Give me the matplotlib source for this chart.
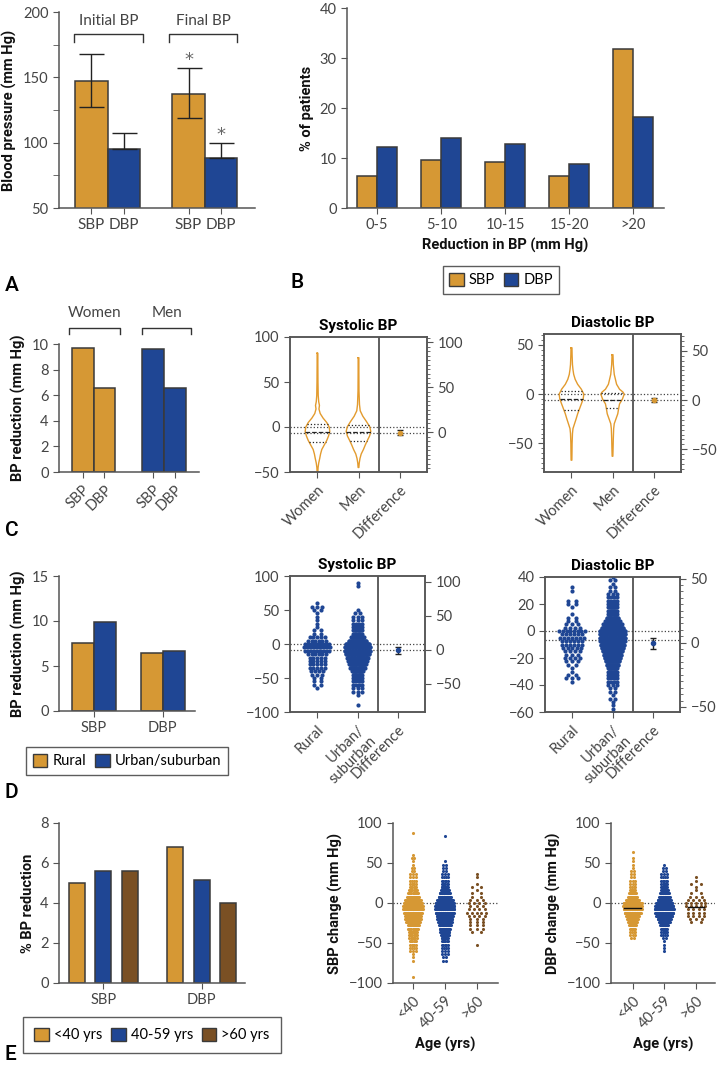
import numpy as np
import matplotlib.pyplot as plt
from matplotlib.patches import Patch
from matplotlib.ticker import MultipleLocator

plt.rcParams['font.family'] = ['Lato', 'DejaVu Sans']
plt.rcParams['font.weight'] = 'normal'
plt.rcParams['axes.edgecolor'] = '#555555'
plt.rcParams['axes.linewidth'] = 1.1
plt.rcParams['xtick.color'] = '#555555'
plt.rcParams['ytick.color'] = '#555555'
plt.rcParams['xtick.labelcolor'] = '#444444'
plt.rcParams['ytick.labelcolor'] = '#444444'
plt.rcParams['xtick.labelsize'] = 10.5
plt.rcParams['ytick.labelsize'] = 10.5
plt.rcParams['xtick.major.size'] = 4
plt.rcParams['ytick.major.size'] = 4
plt.rcParams['ytick.minor.size'] = 2.5

ORANGE = '#D69834'
BLUE = '#1F4694'
BROWN = '#7A5024'
EDGE = '#3a3a3a'
LABEL = dict(fontsize=10.5, fontweight='bold', family=['Roboto', 'DejaVu Sans'], color='#111111')

# ---- A: initial / final BP
a_groups = ['Initial BP', 'Final BP']
a_labels = ['SBP', 'DBP', 'SBP', 'DBP']
a_values = [147, 95, 137, 88]
a_err_low = [19.5, 0, 18.5, 0]
a_err_high = [20.5, 12.5, 20.5, 12]
a_stars = [None, None, 163, 106]

# ---- B: distribution of reduction
b_bins = ['0-5', '5-10', '10-15', '15-20', '>20']
b_sbp = [6.5, 9.7, 9.3, 6.5, 31.8]
b_dbp = [12.2, 14.1, 12.8, 8.8, 18.3]

# ---- C: sex
c_groups = ['Women', 'Men']
c_labels = ['SBP', 'DBP', 'SBP', 'DBP']
c_values = [9.7, 6.6, 9.6, 6.6]

c_sys_w_y = [82, 70, 50, 35, 28, 24, 20, 15, 10, 5, 0, -5, -10, -15, -20, -25, -30, -35, -40, -45, -50]
c_sys_w_d = [.03, .03, .04, .06, .10, .16, .12, .22, .45, .75, .95, 1.0, .9, .75, .55, .35, .25, .18, .10, .05, .03]
c_sys_m_y = [77, 60, 40, 25, 18, 12, 6, 0, -5, -10, -15, -20, -25, -30, -35, -40, -45]
c_sys_m_d = [.03, .03, .04, .08, .14, .35, .65, .92, 1.0, .9, .72, .55, .40, .22, .12, .06, .03]
c_sys_quart = [[3, -6, -17], [2, -6, -15]]
c_sys_means = [0, -6.2]
c_sys_diff = [-0.5, -2.5, 2.5]

c_dia_w_y = [47, 40, 30, 25, 20, 15, 10, 5, 0, -5, -10, -15, -20, -25, -30, -35, -40, -50, -60, -67]
c_dia_w_d = [.04, .05, .08, .12, .18, .30, .50, .80, 1.0, .95, .80, .65, .50, .38, .25, .12, .08, .05, .04, .03]
c_dia_m_y = [40, 30, 20, 15, 10, 5, 2, 0, -5, -10, -15, -20, -25, -30, -35, -45, -55, -63]
c_dia_m_d = [.04, .07, .15, .25, .35, .60, .90, 1.0, .85, .60, .52, .45, .30, .15, .10, .07, .05, .03]
c_dia_quart = [[3, -5, -16], [1, -6, -14]]
c_dia_means = [0, -6]
c_dia_diff = [0.2, -1.7, 2.3]

# ---- D: rural vs urban
d_series = ['Rural', 'Urban/suburban']
d_groups = ['SBP', 'DBP']
d_rural = [7.6, 6.5]
d_urban = [9.9, 6.7]
d_cats = ['Rural', 'Urban/\nsuburban', 'Difference']

d_sys_levels = list(range(90, -95, -5))
d_sys_rural = [0, 0, 0, 0, 0, 0, 1, 3, 2, 1, 1, 1, 1, 1, 2, 2, 5, 6, 9, 10, 9, 6, 5, 5, 5, 5, 4, 3, 2, 2, 2, 1,
               0, 0, 0, 0, 0]
d_sys_urban = [1, 1, 0, 0, 0, 0, 0, 0, 1, 2, 3, 3, 4, 5, 7, 10, 18, 28, 40, 45, 45, 40, 35, 30, 26, 22, 16, 12,
               8, 5, 4, 3, 3, 1, 0, 0, 1]
d_sys_means = [0, -8.2]
d_sys_diff = [-1, -7, 3.4]

d_dia_levels = [40 - 2.5 * i for i in range(41)]
d_dia_rural = [0, 0, 0, 1, 1, 0, 0, 2, 2, 1, 0, 1, 2, 2, 3, 4, 8, 6, 7, 6, 6, 5, 4, 3, 4, 3, 2, 1, 1, 2,
               3, 1, 0, 0, 0, 0, 0, 0, 0, 0, 0]
d_dia_urban = [1, 2, 1, 2, 2, 3, 4, 5, 6, 8, 10, 14, 18, 24, 32, 40, 50, 50, 50, 48, 45, 40, 36, 30, 26, 22,
               18, 14, 10, 7, 5, 4, 3, 2, 2, 1, 2, 1, 1, 1, 1]
d_dia_means = [0, -6.4]
d_dia_diff = [0, -4.5, 4]

# ---- E: age
e_series = ['<40 yrs', '40-59 yrs', '>60 yrs']
e_groups = ['SBP', 'DBP']
e_pct = [[5.0, 6.8], [5.6, 5.15], [5.6, 4.0]]
e_ages = ['<40', '40-59', '>60']

e_sbp_levels = list(range(92, -96, -4))
e_sbp_counts = [
    [0, 1, 0, 0, 0, 0, 0, 0, 1, 2, 1, 1, 2, 2, 3, 3, 4, 5, 6, 8, 10, 14, 18, 22, 24, 24, 22, 20, 18, 15,
     12, 10, 9, 8, 7, 6, 5, 4, 3, 1, 1, 1, 0, 0, 0, 0, 1],
    [0, 0, 1, 0, 0, 0, 0, 0, 0, 0, 1, 2, 2, 2, 3, 4, 5, 6, 8, 10, 14, 18, 24, 28, 30, 30, 28, 25, 22, 20,
     17, 14, 12, 10, 8, 6, 5, 4, 3, 3, 2, 2, 0, 0, 0, 0, 0],
    [0, 0, 0, 0, 0, 0, 0, 0, 0, 0, 0, 0, 0, 0, 1, 1, 0, 1, 2, 1, 2, 2, 3, 4, 3, 4, 5, 4, 3, 3,
     3, 3, 2, 0, 0, 0, 1, 0, 0, 0, 0, 0, 0, 0, 0, 0, 0],
]
e_dbp_levels = list(range(64, -64, -4))
e_dbp_counts = [
    [1, 0, 1, 1, 1, 1, 2, 2, 2, 3, 3, 4, 6, 8, 12, 20, 30, 32, 30, 26, 20, 16, 12, 9, 6, 4, 3, 2, 0, 0, 0, 0],
    [0, 0, 0, 0, 1, 2, 2, 3, 4, 5, 6, 8, 10, 14, 18, 24, 30, 36, 38, 36, 30, 24, 18, 12, 8, 6, 4, 2, 1, 1, 1, 1],
    [0, 0, 0, 0, 0, 0, 0, 0, 1, 1, 2, 1, 1, 2, 3, 4, 5, 5, 4, 4, 4, 3, 2, 0, 0, 0, 0, 0, 0, 0, 0, 0],
]
e_dbp_means = [-6.3, None, -5]

W, H = 718, 1067
fig = plt.figure(figsize=(W / 100, H / 100), dpi=100)


def box(x0, y0, x1, y1):
    return [x0 / W, 1 - y1 / H, (x1 - x0) / W, (y1 - y0) / H]


def open_axes(ax):
    ax.spines[['top', 'right']].set_visible(False)


def bracket(ax, x0, x1, y, drop, text, ty):
    ax.plot([x0, x0, x1, x1], [y - drop, y, y, y - drop], color='#333333', lw=1, clip_on=False)
    ax.text((x0 + x1) / 2, ty, text, ha='center', va='center', fontsize=11, color='#444444', clip_on=False)


def violin(ax, x, ys, dens, maxw, quart, color):
    ys = np.array(ys)
    w = np.array(dens) * maxw
    ax.plot(np.concatenate([x - w, (x + w)[::-1], [x - w[0]]]),
            np.concatenate([ys, ys[::-1], [ys[0]]]), color=color, lw=1)
    for q, ls in zip(quart, [':', '--', ':']):
        hw = np.interp(q, ys[::-1], w[::-1])
        ax.plot([x - hw, x + hw], [q, q], ls=ls, color='#222222', lw=0.9)


def swarm(ax, x, levels, counts, color, maxw, d, s):
    cmax = max(counts)
    xs, ys = [], []
    for lv, c in zip(levels, counts):
        if c == 0:
            continue
        hw = min(maxw, max(maxw * (c / cmax) ** 0.8, (min(c, 3) - 1) * d / 2))
        if c == 1:
            xs.append(x)
            ys.append(lv)
        else:
            for k in range(c):
                xs.append(x - hw + 2 * hw * k / (c - 1))
                ys.append(lv)
    ax.scatter(xs, ys, s=s, color=color, linewidths=0, zorder=3)


def estimation(ax, cats, ylim, ylim2, means, diff, color, left_minor, right_minor, title):
    ax.set_xlim(-0.67, 2.67)
    ax.set_ylim(*ylim)
    ax.axvline(1.5, color='#333333', lw=1.1)
    for m in means:
        ax.axhline(m, ls=':', color='#444444', lw=0.9, zorder=1)
    ax.set_xticks([0, 1, 2])
    ax.set_xticklabels(cats, rotation=45, ha='right', rotation_mode='anchor')
    if left_minor:
        ax.yaxis.set_minor_locator(MultipleLocator(left_minor))
    ax2 = ax.twinx()
    ax2.set_ylim(*ylim2)
    ax2.yaxis.set_major_locator(MultipleLocator(50))
    if right_minor:
        ax2.yaxis.set_minor_locator(MultipleLocator(right_minor))
    ax2.errorbar([2], [diff[0]], yerr=[[diff[0] - diff[1]], [diff[2] - diff[0]]], fmt='o', ms=3,
                 color=color, ecolor='#222222', elinewidth=1, capsize=2.5, capthick=1)
    ax.set_title(title, fontsize=11, fontweight='bold', family=['Roboto', 'DejaVu Sans'], pad=5)
    return ax2


def box_legend(handles, labels, cx, cy, ncol, pad):
    fig.legend(handles, labels, loc='center', bbox_to_anchor=(cx / W, 1 - cy / H), ncol=ncol, fontsize=10.5,
               frameon=True, fancybox=False, edgecolor='#333333', handlelength=1.0, handleheight=1.0,
               columnspacing=0.6, handletextpad=0.35, borderpad=pad, borderaxespad=0)


# ---------------- A
ax = fig.add_axes(box(59, 12, 255, 208))
open_axes(ax)
a_pos = [0, 1, 3, 4]
a_cols = [ORANGE, BLUE, ORANGE, BLUE]
ax.bar(a_pos, a_values, width=1, color=a_cols, edgecolor=EDGE, lw=1.1, bottom=0)
ax.errorbar(a_pos, a_values, yerr=[a_err_low, a_err_high], fmt='none', ecolor='#222222', elinewidth=1,
            capsize=9, capthick=1)
for p, s in zip(a_pos, a_stars):
    if s:
        ax.text(p, s, '*', ha='center', va='center', fontsize=13, color='#666666', family='DejaVu Sans')
ax.set_ylim(50, 200)
ax.set_xlim(-1.0, 5.05)
ax.set_yticks([50, 100, 150, 200])
ax.yaxis.set_minor_locator(MultipleLocator(25))
ax.tick_params(axis='y', which='minor', length=4)
ax.set_xticks(a_pos)
ax.set_xticklabels(a_labels, fontsize=11)
ax.set_ylabel('Blood pressure (mm Hg)', **LABEL)
bracket(ax, -0.55, 1.6, 183, 6, a_groups[0], 193)
bracket(ax, 2.4, 4.5, 183, 6, a_groups[1], 193)

# ---------------- B
ax = fig.add_axes(box(347, 8, 664, 208))
open_axes(ax)
x = np.arange(len(b_bins))
ax.bar(x - 0.155, b_sbp, width=0.31, color=ORANGE, edgecolor=EDGE, lw=1.1)
ax.bar(x + 0.155, b_dbp, width=0.31, color=BLUE, edgecolor=EDGE, lw=1.1)
ax.set_xlim(-0.47, 4.48)
ax.set_ylim(0, 40)
ax.set_yticks([0, 10, 20, 30, 40])
ax.set_xticks(x)
ax.set_xticklabels(b_bins)
ax.set_ylabel('% of patients', **LABEL)
ax.set_xlabel('Reduction in BP (mm Hg)', **LABEL)
box_legend([Patch(facecolor=ORANGE, edgecolor=EDGE), Patch(facecolor=BLUE, edgecolor=EDGE)], ['SBP', 'DBP'],
           501, 280, 2, 0.45)

# ---------------- C bars
ax = fig.add_axes(box(59, 344, 199, 472))
open_axes(ax)
c_pos = [0, 1, 3.2, 4.2]
ax.bar(c_pos, c_values, width=1, color=[ORANGE, ORANGE, BLUE, BLUE], edgecolor=EDGE, lw=1.1)
ax.set_xlim(-1.07, 5.3)
ax.set_ylim(0, 10)
ax.set_yticks([0, 2, 4, 6, 8, 10])
ax.set_xticks(c_pos)
ax.set_xticklabels(c_labels, rotation=45, ha='right', rotation_mode='anchor')
ax.set_ylabel('BP reduction (mm Hg)', **LABEL)
bracket(ax, -0.6, 1.7, 11.25, 0.45, c_groups[0], 12.45)
bracket(ax, 2.7, 4.95, 11.25, 0.45, c_groups[1], 12.45)

# ---------------- C violins
ax = fig.add_axes(box(290, 337, 427, 472))
violin(ax, 0, c_sys_w_y, c_sys_w_d, 0.3, c_sys_quart[0], '#E39B2E')
violin(ax, 1, c_sys_m_y, c_sys_m_d, 0.3, c_sys_quart[1], '#E39B2E')
ax.set_yticks([-50, 0, 50, 100])
estimation(ax, ['Women', 'Men', 'Difference'], (-50, 100), (-44, 106), c_sys_means, c_sys_diff, ORANGE,
           None, 5, 'Systolic BP')

ax = fig.add_axes(box(544, 334, 681, 472))
violin(ax, 0, c_dia_w_y, c_dia_w_d, 0.3, c_dia_quart[0], '#E39B2E')
violin(ax, 1, c_dia_m_y, c_dia_m_d, 0.285, c_dia_quart[1], '#E39B2E')
ax.set_yticks([-50, 0, 50])
estimation(ax, ['Women', 'Men', 'Difference'], (-79, 61), (-73, 67), c_dia_means, c_dia_diff, ORANGE,
           5, 5, 'Diastolic BP')

# ---------------- D bars
ax = fig.add_axes(box(59, 576, 195, 711))
open_axes(ax)
x = np.arange(len(d_groups))
ax.bar(x - 0.16, d_rural, width=0.32, color=ORANGE, edgecolor=EDGE, lw=1.1)
ax.bar(x + 0.16, d_urban, width=0.32, color=BLUE, edgecolor=EDGE, lw=1.1)
ax.set_xlim(-0.51, 1.47)
ax.set_ylim(0, 15)
ax.set_yticks([0, 5, 10, 15])
ax.set_xticks(x)
ax.set_xticklabels(d_groups)
ax.set_ylabel('BP reduction (mm Hg)', **LABEL)
box_legend([Patch(facecolor=ORANGE, edgecolor=EDGE), Patch(facecolor=BLUE, edgecolor=EDGE)], d_series,
           127, 761, 2, 0.45)

# ---------------- D swarms
ax = fig.add_axes(box(290, 576, 425, 712))
swarm(ax, 0, d_sys_levels, d_sys_rural, BLUE, 0.32, 0.1, 9)
swarm(ax, 1, d_sys_levels, d_sys_urban, BLUE, 0.32, 0.1, 9)
ax.set_yticks([-100, -50, 0, 50, 100])
estimation(ax, d_cats, (-100, 100), (-91.8, 108.2), d_sys_means, d_sys_diff, BLUE, None, None, 'Systolic BP')

ax = fig.add_axes(box(545, 577, 680, 712))
swarm(ax, 0, d_dia_levels, d_dia_rural, BLUE, 0.32, 0.1, 9)
swarm(ax, 1, d_dia_levels, d_dia_urban, BLUE, 0.32, 0.1, 9)
ax.set_yticks([-60, -40, -20, 0, 20, 40])
estimation(ax, d_cats, (-60, 40), (-53.9, 51.2), d_dia_means, d_dia_diff, BLUE, None, 5, 'Diastolic BP')

# ---------------- E bars
ax = fig.add_axes(box(59, 823, 245, 983))
open_axes(ax)
x = np.arange(len(e_groups))
for i, (vals, col) in enumerate(zip(e_pct, [ORANGE, BLUE, BROWN])):
    ax.bar(x + (i - 1) * 0.27, vals, width=0.163, color=col, edgecolor=EDGE, lw=1.1)
ax.set_xlim(-0.45, 1.44)
ax.set_ylim(0, 8)
ax.set_yticks([0, 2, 4, 6, 8])
ax.set_xticks(x)
ax.set_xticklabels(e_groups)
ax.set_ylabel('% BP reduction', **LABEL)
box_legend([Patch(facecolor=c, edgecolor=EDGE) for c in [ORANGE, BLUE, BROWN]], e_series,
           152, 1035, 3, 0.75)

# ---------------- E swarms
for (x0, x1, xl), levels, counts, ylab, means in [
        ((393, 498, (-0.63, 2.67)), e_sbp_levels, e_sbp_counts, 'SBP change (mm Hg)', [None, None, None]),
        ((611, 715, (-0.68, 2.6)), e_dbp_levels, e_dbp_counts, 'DBP change (mm Hg)', e_dbp_means)]:
    ax = fig.add_axes(box(x0, 823, x1, 983))
    open_axes(ax)
    ax.axhline(0, ls=':', color='#444444', lw=0.9, zorder=1)
    for i, (cnt, col) in enumerate(zip(counts, [ORANGE, BLUE, BROWN])):
        swarm(ax, i, levels, cnt, col, 0.3, 0.09, 5)
        if means[i] is not None:
            ax.plot([i - 0.26, i + 0.26], [means[i], means[i]], color='#111111', lw=1, zorder=4)
    ax.set_xlim(*xl)
    ax.set_ylim(-100, 100)
    ax.set_yticks([-100, -50, 0, 50, 100])
    ax.set_xticks([0, 1, 2])
    ax.set_xticklabels(e_ages, rotation=45, ha='right', rotation_mode='anchor')
    ax.set_ylabel(ylab, **LABEL)
    ax.set_xlabel('Age (yrs)', **LABEL)

for lab, (px, py) in zip('ABCDE', [(5, 285), (290, 283), (5, 530), (5, 793), (5, 1055)]):
    fig.text(px / W, 1 - py / H, lab, fontsize=15, fontweight='medium', ha='left', va='center',
             family=['Roboto', 'DejaVu Sans'])

fig.savefig('out.png', dpi=100)
